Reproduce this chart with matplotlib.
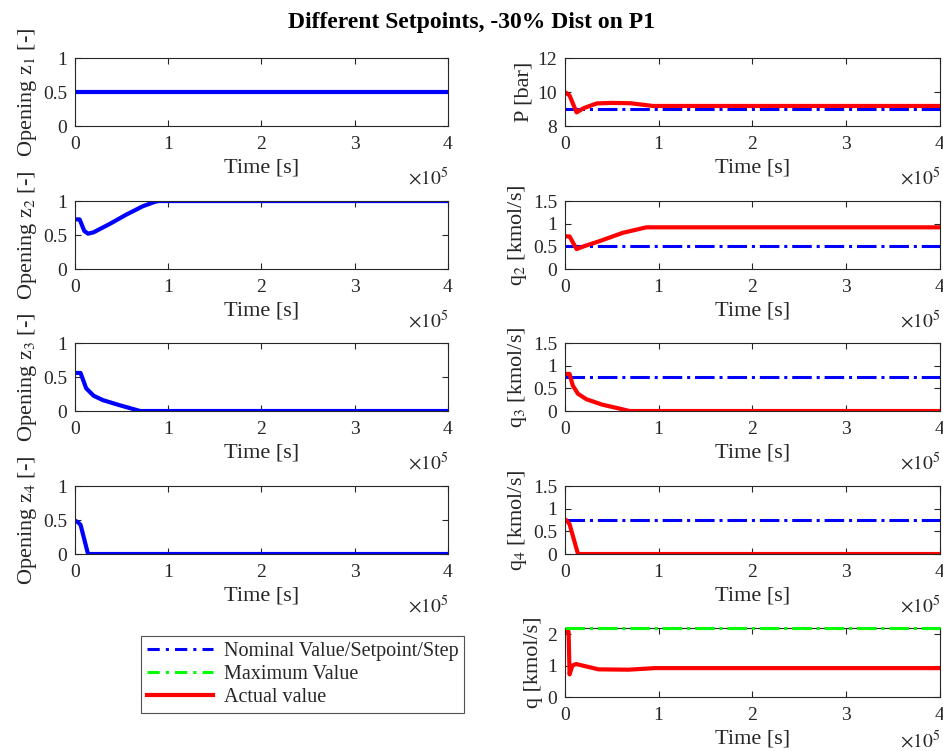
import numpy as np
from matplotlib import pyplot as plt
from matplotlib.lines import Line2D

plt.rcParams['font.family'] = ['Liberation Serif', 'DejaVu Serif']
plt.rcParams['mathtext.fontset'] = 'stix'

# time in seconds
t_z1 = [0, 4e5]
z1 = [0.5, 0.5]

t_z2 = [0, 0.05e5, 0.1e5, 0.14e5, 0.2e5, 0.375e5, 0.55e5, 0.73e5, 0.86e5, 0.9e5, 4e5]
z2 = [0.73, 0.73, 0.56, 0.52, 0.54, 0.665, 0.8, 0.925, 0.99, 1.0, 1.0]

t_z3 = [0, 0.06e5, 0.12e5, 0.2e5, 0.3e5, 0.48e5, 0.7e5, 4e5]
z3 = [0.56, 0.56, 0.335, 0.225, 0.16, 0.085, 0.0, 0.0]

t_z4 = [0, 0.03e5, 0.06e5, 0.14e5, 4e5]
z4 = [0.49, 0.47, 0.43, 0.0, 0.0]

p_set = 9.0
t_p = [0, 0.05e5, 0.125e5, 0.2e5, 0.34e5, 0.5e5, 0.7e5, 0.94e5, 4e5]
p = [10.0, 9.8, 8.8, 9.05, 9.33, 9.36, 9.34, 9.18, 9.18]

q2_set = 0.5
t_q2 = [0, 0.05e5, 0.125e5, 0.2e5, 0.37e5, 0.62e5, 0.87e5, 4e5]
q2 = [0.72, 0.72, 0.44, 0.5, 0.615, 0.8, 0.92, 0.92]

q3_set = 0.75
t_q3 = [0, 0.05e5, 0.085e5, 0.14e5, 0.23e5, 0.4e5, 0.57e5, 0.69e5, 4e5]
q3 = [0.82, 0.82, 0.56, 0.38, 0.26, 0.14, 0.06, 0.0, 0.0]

q4_set = 0.75
t_q4 = [0, 0.02e5, 0.05e5, 0.14e5, 4e5]
q4 = [0.76, 0.74, 0.66, 0.0, 0.0]

q_max = 2.2
t_q = [0, 0.04e5, 0.05e5, 0.08e5, 0.12e5, 0.36e5, 0.68e5, 0.96e5, 4e5]
q = [2.08, 2.08, 0.72, 1.0, 1.05, 0.88, 0.87, 0.92, 0.92]

fs_tick = 14
fs_lab = 16
dark = '#262626'
fig = plt.figure(figsize=(9.43, 7.51), dpi=100)
fig.suptitle('Different Setpoints, -30% Dist on P1', fontsize=17, fontweight='bold', y=0.984)

left_x, right_x = 0.0795, 0.599
w_left, w_right = 0.3955, 0.3977
bottoms = [0.8322, 0.6418, 0.4527, 0.2623, 0.0719]
h = 0.0905


def style(ax, ylabel, ylim, yticks, yticklabels, exp_y=-0.76):
    ax.set_xlim(0, 4)
    ax.set_ylim(*ylim)
    ax.set_xticks([0, 1, 2, 3, 4])
    ax.set_yticks(yticks)
    ax.set_yticklabels(yticklabels)
    ax.tick_params(direction='in', top=True, right=True, labelsize=fs_tick, length=4,
                   color=dark, labelcolor=dark)
    ax.tick_params(axis='x', pad=7)
    ax.tick_params(axis='y', pad=5.5)
    for s in ax.spines.values():
        s.set_color(dark)
    ax.set_xlabel('Time [s]', fontsize=fs_lab, labelpad=4, color=dark)
    ax.set_ylabel(ylabel, fontsize=fs_lab, labelpad=3, color=dark)
    ax.text(1.0, exp_y, r'$\times 10^5$', transform=ax.transAxes, ha='right', va='center',
            fontsize=fs_tick, color=dark)


def arr(t):
    return np.array(t) / 1e5


blue, red, green = '#0000ff', '#ff0000', '#00ff00'
z_data = [(t_z1, z1), (t_z2, z2), (t_z3, z3), (t_z4, z4)]
for i, (tt, zz) in enumerate(z_data):
    ax = fig.add_axes([left_x, bottoms[i], w_left, h])
    ax.plot(arr(tt), zz, color=blue, lw=3)
    style(ax, 'Opening z$_%d$ [-]' % (i + 1), (0, 1), [0, 0.5, 1], ['0', '0.5', '1'])

ax = fig.add_axes([right_x, bottoms[0], w_right, h])
ax.plot([0, 4], [p_set, p_set], color=blue, lw=2.2, ls='-.')
ax.plot(arr(t_p), p, color=red, lw=3)
style(ax, 'P [bar]', (8, 12), [8, 10, 12], ['8', '10', '12'])

flows = [(t_q2, q2, q2_set, 'q$_2$ [kmol/s]'),
         (t_q3, q3, q3_set, 'q$_3$ [kmol/s]'),
         (t_q4, q4, q4_set, 'q$_4$ [kmol/s]')]
for i, (tt, qq, sp, lab) in enumerate(flows):
    ax = fig.add_axes([right_x, bottoms[i + 1], w_right, h])
    ax.plot([0, 4], [sp, sp], color=blue, lw=2.2, ls='-.')
    ax.plot(arr(tt), qq, color=red, lw=3)
    style(ax, lab, (0, 1.5), [0, 0.5, 1, 1.5], ['0', '0.5', '1', '1.5'])

ax = fig.add_axes([right_x, bottoms[4], w_right, h + 0.0015])
ax.plot([0, 4], [q_max, q_max], color=green, lw=2.2, ls='-.', clip_on=False, zorder=4)
ax.plot(arr(t_q), q, color=red, lw=3)
style(ax, 'q [kmol/s]', (0, 2.2), [0, 1, 2], ['0', '1', '2'], exp_y=-0.64)

handles = [Line2D([], [], color=blue, lw=2.2, ls=(0, (4, 2, 1, 2))),
           Line2D([], [], color=green, lw=2.2, ls=(0, (4, 2, 1, 2))),
           Line2D([], [], color=red, lw=3)]
labels = ['Nominal Value/Setpoint/Step', 'Maximum Value', 'Actual value']
leg = fig.legend(handles, labels, loc='upper left', bbox_to_anchor=(0.1495, 0.1531),
                 fontsize=14.5, frameon=True, fancybox=False, edgecolor=dark,
                 handlelength=3.3, borderpad=0.3, labelspacing=0.18, handletextpad=0.5,
                 borderaxespad=0)
leg.get_frame().set_linewidth(0.8)
for txt in leg.get_texts():
    txt.set_color(dark)

fig.savefig('out.png', dpi=100)
